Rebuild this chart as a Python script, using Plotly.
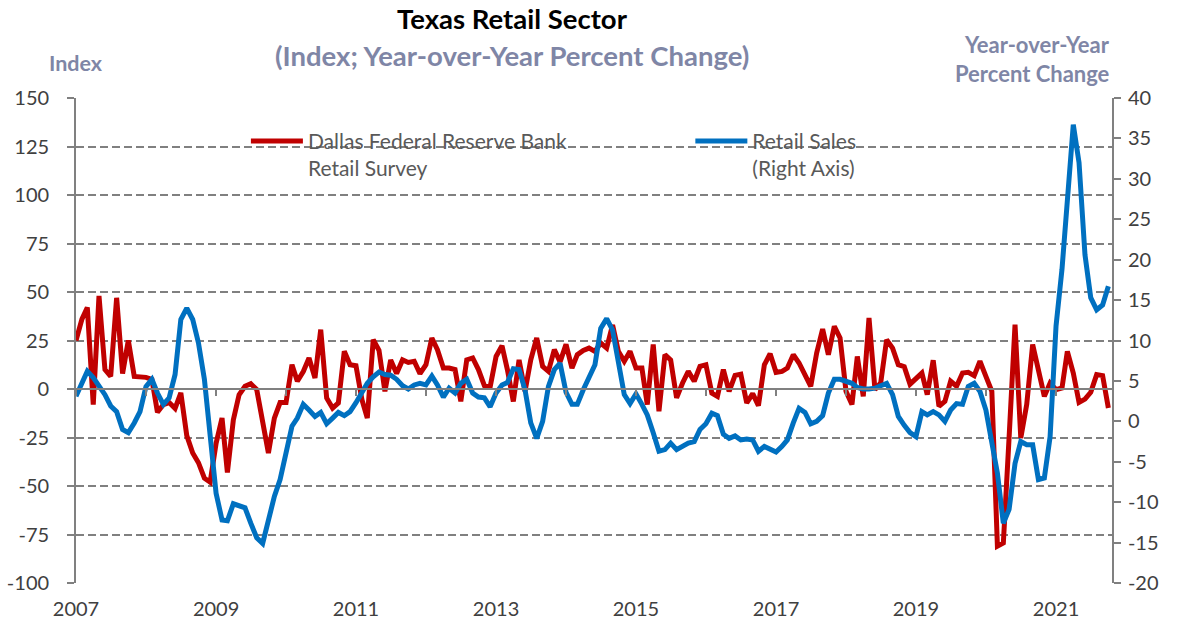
import pandas as pd
import plotly.graph_objects as go

# Monthly observations, Jan 2007 - Oct 2021
months = pd.date_range("2007-01-01", periods=178, freq="MS")

# Dallas Fed Texas Retail Outlook Survey, sales index (left axis)
survey_index = [
    25, 36, 42, -8, 48, 10, 6.5, 47, 8, 25, 6.5, 6.5,
    6, 5, -12, -8, -7, -10, -2, -24, -33, -38, -46, -48,
    -28, -15, -43, -16, -3, 1.4, 2.7, -0.3, -17.5, -33, -15, -7,
    -7, 12.5, 4, 9, 16, 5.7, 30.6, -4.6, -9.8, -7.2, 19.4, 12.5,
    12, -5.5, -15, 25.4, 20, -1.2, 15, 8, 15, 13.7, 14.3, 7.9,
    12.5, 26.3, 20.3, 10.8, 10.8, 10, -6.4, 15, 16, 10, 1.7, 1,
    16.8, 22.3, 10, -6.4, 15, -1.2, 15, 26.3, 11.7, 9.1, 20.3, 14,
    23, 10.8, 17.7, 19.9, 21.1, 19.4, 23.7, 21.1, 33, 19.4, 14.3, 19.4,
    10.8, 10.8, -8, 22.9, -11.5, 17.7, 15, -4.6, 3.1, 9.1, 4, 11.7,
    12.5, -2.1, -3.8, 10, -1.2, 7, 7.6, -7.2, -2.4, -8.6, 12.5, 18.2,
    8.6, 9.1, 10.8, 17.7, 13.4, 7.4, 1.4, 18.6, 30.9, 17.7, 32.3, 26.3,
    -1.2, -8, 16.8, -3.8, 36.6, -0.3, 3.1, 25.4, 21.1, 12.5, 11.5, 2.5,
    5.2, 8.2, -2.9, 14.8, -8.9, -6.4, 4, 1.4, 8.2, 8.6, 6.9, 14.3,
    6.5, -1.2, -81, -79.4, -25, 33.2, -25.3, -8, 22.9, 8.2, -3.8, 3.1,
    -0.3, 0.5, 19.4, 8.2, -6.9, -5.2, -1.7, 7.4, 6.9, -9.8,
]

# Texas retail sales, year-over-year percent change (right axis)
retail_sales_yoy = [
    3.1, 4.7, 6.2, 5.4, 4.3, 3.3, 1.9, 1.2, -1.0, -1.4, -0.2, 1.2,
    4.3, 5.2, 3.5, 2.1, 2.9, 5.8, 12.6, 14.0, 12.6, 9.7, 5.2, -2.3,
    -8.9, -12.2, -12.3, -10.2, -10.5, -10.7, -12.6, -14.4, -15.1, -12.2, -9.3, -7.2,
    -3.9, -0.6, 0.4, 2.1, 1.4, 0.6, 1.1, -0.3, 0.4, 1.1, 0.7, 1.2,
    2.3, 3.7, 4.7, 5.5, 6.1, 5.8, 5.7, 5.2, 4.4, 4.0, 4.5, 4.7,
    4.5, 5.6, 4.5, 3.0, 4.1, 3.5, 4.7, 5.2, 3.5, 3.0, 2.9, 1.8,
    3.5, 4.5, 4.8, 6.5, 6.4, 3.9, -0.2, -2.1, 0.0, 4.3, 6.4, 7.2,
    3.6, 2.1, 2.1, 3.9, 5.4, 7.0, 11.5, 12.7, 11.3, 7.6, 3.3, 2.2,
    3.4, 2.1, 0.8, -1.4, -3.7, -3.5, -2.7, -3.5, -3.1, -2.7, -2.5, -1.0,
    -0.3, 1.0, 0.7, -1.6, -2.1, -1.8, -2.3, -2.2, -2.3, -3.7, -3.1, -3.5,
    -3.8, -3.1, -2.3, -0.2, 1.6, 1.1, -0.3, 0.0, 0.7, 3.5, 5.2, 5.2,
    4.9, 4.7, 4.2, 4.0, 4.0, 4.1, 4.4, 4.7, 3.3, 0.6, -0.5, -1.4,
    -1.9, 1.2, 0.8, 1.2, 0.8, 0.0, 1.4, 2.2, 2.1, 4.3, 4.7, 3.7,
    1.4, -2.7, -6.4, -12.6, -10.9, -5.2, -2.5, -2.9, -2.9, -7.2, -7.0, -1.9,
    11.8, 18.8, 27.4, 36.7, 32.0, 20.6, 15.3, 13.8, 14.4, 16.7,
]

year_ticks = [f"{y}-01-01" for y in range(2007, 2022, 2)]
year_labels = [str(y) for y in range(2007, 2022, 2)]
left_ticks = list(range(-100, 151, 25))
right_ticks = list(range(-20, 41, 5))

FONT = "Lato, 'Open Sans', sans-serif"
GRID = "#808080"
TICK_TXT = "#404040"
NOTE = "#7F86A6"
x_range = ["2007-01-01", "2021-10-20"]

fig = go.Figure()
fig.add_trace(go.Scatter(
    x=months, y=survey_index, mode="lines", xaxis="x", yaxis="y",
    name="Dallas Federal Reserve Bank<br>Retail Survey", legend="legend",
    line=dict(color="#C00000", width=5),
))
fig.add_trace(go.Scatter(
    x=months, y=retail_sales_yoy, mode="lines", xaxis="x", yaxis="y2",
    name="Retail Sales<br>(Right Axis)", legend="legend2",
    line=dict(color="#0070C0", width=5),
))
# empty trace that carries the zero-crossing axis with yearly tick marks
fig.add_trace(go.Scatter(
    x=[months[0]], y=[None], mode="lines", xaxis="x2", yaxis="y",
    showlegend=False, hoverinfo="skip",
))

legend_style = dict(
    yanchor="top", xanchor="left", y=0.953,
    bgcolor="rgba(0,0,0,0)", font=dict(size=21, color="#595959"),
    valign="top", itemwidth=52,
)

fig.update_layout(
    width=1178, height=626,
    margin=dict(l=76, r=66, t=98, b=43),
    paper_bgcolor="white", plot_bgcolor="white",
    font=dict(family=FONT, color=TICK_TXT),
    xaxis=dict(
        type="date", range=x_range, tickvals=year_ticks, ticktext=year_labels,
        showgrid=False, zeroline=False, showline=False, ticks="",
        tickfont=dict(size=20, color=TICK_TXT), ticklabelstandoff=12,
        automargin=False,
    ),
    xaxis2=dict(
        type="date", range=x_range, overlaying="x", anchor="free", position=0.4,
        showgrid=False, zeroline=False, showline=True, linecolor=GRID, linewidth=2,
        ticks="outside", ticklen=6, tickcolor=GRID, tickwidth=1.5,
        tick0="2007-01-01", dtick="M12", showticklabels=False, automargin=False,
    ),
    yaxis=dict(
        range=[-100, 150], tickvals=left_ticks, ticktext=[str(v) for v in left_ticks],
        showgrid=True, gridcolor=GRID, gridwidth=1.8, griddash="8px,4px",
        zeroline=False, showline=True, linecolor=GRID, linewidth=1.8,
        ticks="outside", ticklen=7, tickcolor=GRID, tickwidth=1.5,
        tickfont=dict(size=20, color=TICK_TXT), ticklabelstandoff=14,
        automargin=False,
    ),
    yaxis2=dict(
        range=[-20, 40], tickvals=right_ticks, ticktext=[str(v) for v in right_ticks],
        overlaying="y", side="right",
        showgrid=False, zeroline=False, showline=True, linecolor=GRID, linewidth=1.8,
        ticks="outside", ticklen=7, tickcolor=GRID, tickwidth=1.5,
        tickfont=dict(size=20, color=TICK_TXT), ticklabelstandoff=3,
        automargin=False,
    ),
    legend=dict(x=0.164, **legend_style),
    legend2=dict(x=0.593, **legend_style),
    showlegend=True,
)

annotations = [
    dict(text="<b>Texas Retail Sector</b>", x=0.421, y=1.164,
         font=dict(size=27.5, color="black")),
    dict(text="<b>(Index; Year-over-Year Percent Change)</b>", x=0.421, y=1.088,
         font=dict(size=27.5, color=NOTE)),
    dict(text="<b>Index</b>", x=0.0, y=1.072, font=dict(size=21.5, color=NOTE)),
    dict(text="<b>Year-over-Year</b>", x=1.0, y=1.110, xanchor="right",
         font=dict(size=22, color=NOTE)),
    dict(text="<b>Percent Change</b>", x=1.0, y=1.050, xanchor="right",
         font=dict(size=22, color=NOTE)),
]
for a in annotations:
    a.setdefault("xanchor", "center")
    fig.add_annotation(xref="paper", yref="paper", yanchor="middle",
                       showarrow=False, **a)

fig.write_html("out.html")
